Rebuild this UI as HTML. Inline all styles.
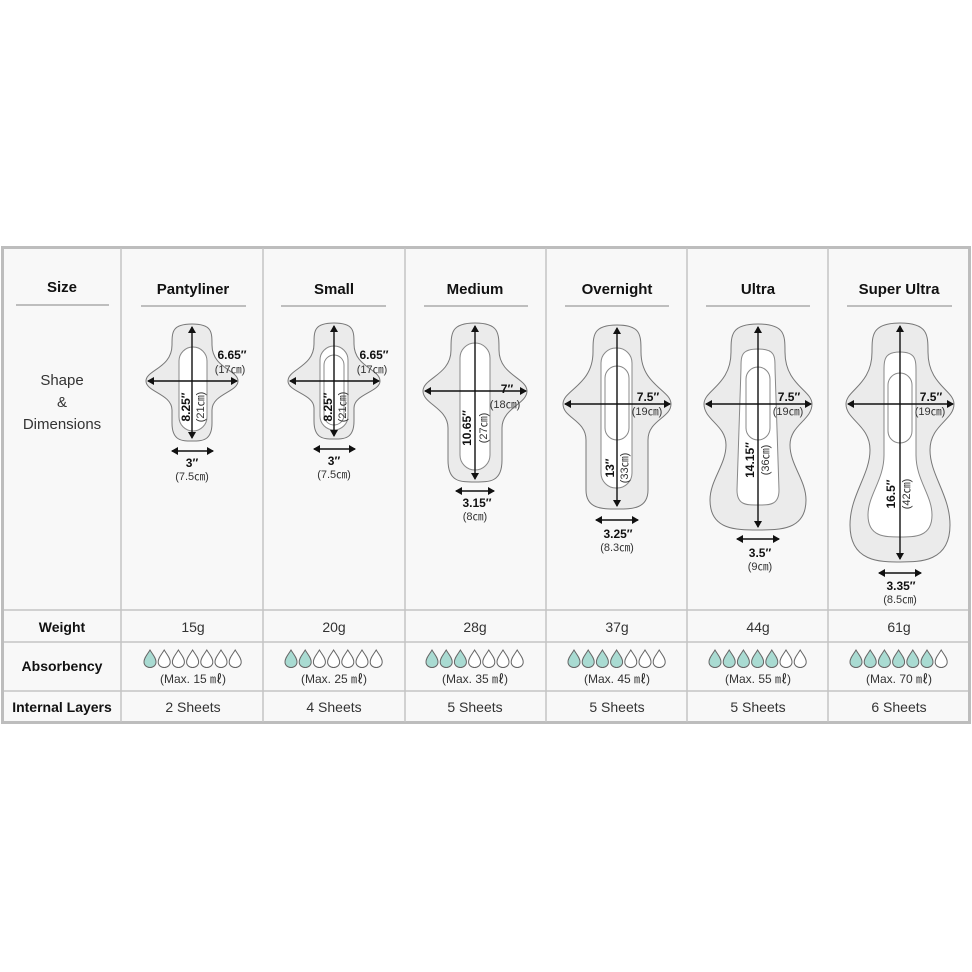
<!DOCTYPE html>
<html><head><meta charset="utf-8"><style>
html,body{margin:0;padding:0;background:#fff;}
svg{display:block;font-family:"Liberation Sans","DejaVu Sans",sans-serif;}
.b{font-weight:bold;fill:#111;}
.t{fill:#333;}
.pad{fill:#ebebeb;stroke:#777;stroke-width:1;}
.in{fill:#fff;stroke:#888;stroke-width:1;}
.ar{stroke:#111;stroke-width:1.4;fill:none;marker-start:url(#a);marker-end:url(#a);}
.d0{fill:#fff;stroke:#666;stroke-width:1;}
.d1{fill:#a9dbd2;stroke:#666;stroke-width:1;}
</style></head><body>
<svg width="972" height="972" viewBox="0 0 972 972">
<defs>
<marker id="a" markerWidth="8" markerHeight="8" refX="6" refY="4" orient="auto-start-reverse" markerUnits="userSpaceOnUse"><path d="M0,0 L7,4 L0,8 Z" fill="#111"/></marker>
<path id="dr" d="M0,-9 C3,-4 6,-1 6,3 C6,6.5 3,8.5 0,8.5 C-3,8.5 -6,6.5 -6,3 C-6,-1 -3,-4 0,-9Z"/>
</defs>
<rect x="0" y="0" width="972" height="972" fill="#fff"/>
<!-- table -->
<rect x="2.5" y="247.5" width="967" height="475" fill="#f8f8f8" stroke="#bdbdbd" stroke-width="3"/>
<g stroke="#c4c4c4" stroke-width="1.5">
<line x1="121" y1="248" x2="121" y2="722"/><line x1="263" y1="248" x2="263" y2="722"/>
<line x1="405" y1="248" x2="405" y2="722"/><line x1="546" y1="248" x2="546" y2="722"/>
<line x1="687" y1="248" x2="687" y2="722"/><line x1="828" y1="248" x2="828" y2="722"/>
<line x1="4" y1="610" x2="968" y2="610"/><line x1="4" y1="642" x2="968" y2="642"/>
<line x1="4" y1="691" x2="968" y2="691"/>
</g>
<g stroke="#aaa" stroke-width="1.5">
<line x1="16" y1="305" x2="109" y2="305"/>
<line x1="141" y1="306" x2="246" y2="306"/><line x1="281" y1="306" x2="386" y2="306"/>
<line x1="424" y1="306" x2="528" y2="306"/><line x1="565" y1="306" x2="669" y2="306"/>
<line x1="706" y1="306" x2="810" y2="306"/><line x1="847" y1="306" x2="952" y2="306"/>
</g>
<g class="b" font-size="15" text-anchor="middle">
<text x="62" y="292">Size</text><text x="193" y="294">Pantyliner</text><text x="334" y="294">Small</text>
<text x="475" y="294">Medium</text><text x="617" y="294">Overnight</text><text x="758" y="294">Ultra</text>
<text x="899" y="294">Super Ultra</text>
<text x="62" y="632" font-size="14">Weight</text><text x="62" y="671" font-size="14">Absorbency</text>
<text x="62" y="712" font-size="14">Internal Layers</text>
</g>
<g class="t" font-size="15" text-anchor="middle">
<text x="62" y="385">Shape</text><text x="62" y="407">&amp;</text><text x="62" y="429">Dimensions</text>
</g>
<g class="t" font-size="14" text-anchor="middle">
<text x="193" y="632">15g</text><text x="334" y="632">20g</text><text x="475" y="632">28g</text>
<text x="617" y="632">37g</text><text x="758" y="632">44g</text><text x="899" y="632">61g</text>
<text x="193" y="712">2 Sheets</text><text x="334" y="712">4 Sheets</text><text x="475" y="712">5 Sheets</text>
<text x="617" y="712">5 Sheets</text><text x="758" y="712">5 Sheets</text><text x="899" y="712">6 Sheets</text>
</g>
<g class="t" font-size="12" text-anchor="middle">
<text x="193" y="683">(Max. 15 ㎖)</text><text x="334" y="683">(Max. 25 ㎖)</text><text x="475" y="683">(Max. 35 ㎖)</text>
<text x="617" y="683">(Max. 45 ㎖)</text><text x="758" y="683">(Max. 55 ㎖)</text><text x="899" y="683">(Max. 70 ㎖)</text>
</g>
<!-- drops -->
<g transform="translate(150,659)"><use href="#dr" class="d1"/><use href="#dr" x="14.2" class="d0"/><use href="#dr" x="28.4" class="d0"/><use href="#dr" x="42.6" class="d0"/><use href="#dr" x="56.8" class="d0"/><use href="#dr" x="71" class="d0"/><use href="#dr" x="85.2" class="d0"/></g>
<g transform="translate(291,659)"><use href="#dr" class="d1"/><use href="#dr" x="14.2" class="d1"/><use href="#dr" x="28.4" class="d0"/><use href="#dr" x="42.6" class="d0"/><use href="#dr" x="56.8" class="d0"/><use href="#dr" x="71" class="d0"/><use href="#dr" x="85.2" class="d0"/></g>
<g transform="translate(432,659)"><use href="#dr" class="d1"/><use href="#dr" x="14.2" class="d1"/><use href="#dr" x="28.4" class="d1"/><use href="#dr" x="42.6" class="d0"/><use href="#dr" x="56.8" class="d0"/><use href="#dr" x="71" class="d0"/><use href="#dr" x="85.2" class="d0"/></g>
<g transform="translate(574,659)"><use href="#dr" class="d1"/><use href="#dr" x="14.2" class="d1"/><use href="#dr" x="28.4" class="d1"/><use href="#dr" x="42.6" class="d1"/><use href="#dr" x="56.8" class="d0"/><use href="#dr" x="71" class="d0"/><use href="#dr" x="85.2" class="d0"/></g>
<g transform="translate(715,659)"><use href="#dr" class="d1"/><use href="#dr" x="14.2" class="d1"/><use href="#dr" x="28.4" class="d1"/><use href="#dr" x="42.6" class="d1"/><use href="#dr" x="56.8" class="d1"/><use href="#dr" x="71" class="d0"/><use href="#dr" x="85.2" class="d0"/></g>
<g transform="translate(856,659)"><use href="#dr" class="d1"/><use href="#dr" x="14.2" class="d1"/><use href="#dr" x="28.4" class="d1"/><use href="#dr" x="42.6" class="d1"/><use href="#dr" x="56.8" class="d1"/><use href="#dr" x="71" class="d1"/><use href="#dr" x="85.2" class="d0"/></g>

<!-- pads -->
<path class="pad" d="M192,324 C212,324 212,332 212,345 C212,368 238,370 238,381 C238,392 212,394 212,410 L212,423 C212,441 202,441 192,441 C182,441 172,441 172,423 L172,410 C172,394 146,392 146,381 C146,370 172,368 172,345 C172,332 172,324 192,324Z"/>
<rect class="in" x="179" y="347" width="28" height="84" rx="14"/>
<path class="pad" d="M334,323 C354,323 354,331 354,344 C354,367 380,369 380,381 C380,392 354,394 354,408 L354,421 C354,439 344,439 334,439 C324,439 314,439 314,421 L314,408 C314,394 288,392 288,381 C288,369 314,367 314,344 C314,331 314,323 334,323Z"/>
<rect class="in" x="320" y="346" width="28" height="84" rx="14"/>
<rect class="in" x="324" y="355" width="20" height="70" rx="10"/>
<path class="pad" d="M475,323 C499,323 499,333 499,350 C499,375 527,378 527,391 C527,404 502,408 502,428 L502,460 C502,482 490,482 475,482 C460,482 448,482 448,460 L448,428 C448,408 423,404 423,391 C423,378 451,375 451,350 C451,333 451,323 475,323Z"/>
<rect class="in" x="460" y="343" width="30" height="127" rx="15"/>
<path class="pad" d="M617,325 C641,325 641,335 641,352 C641,385 671,390 671,404 C671,418 648,420 648,440 L648,490 C648,509 632,509 617,509 C602,509 586,509 586,490 L586,440 C586,420 563,418 563,404 C563,390 593,385 593,352 C593,335 593,325 617,325Z"/>
<rect class="in" x="601" y="348" width="31" height="140" rx="15"/>
<rect class="in" x="605" y="366" width="24" height="74" rx="12"/>
<path class="pad" d="M758,324 C785,324 785,335 785,352 C785,385 812,390 812,404 C812,420 790,425 790,445 C790,465 806,480 806,500 C806,530 780,530 758,530 C736,530 710,530 710,500 C710,480 726,465 726,445 C726,425 704,420 704,404 C704,390 731,385 731,352 C731,335 731,324 758,324Z"/>
<path class="in" d="M758,349 C775,349 775,356 775,368 L779,490 C779,505 770,505 758,505 C746,505 737,505 737,490 L741,368 C741,356 741,349 758,349Z"/>
<rect class="in" x="746" y="367" width="24" height="73" rx="12"/>
<path class="pad" d="M900,323 C928,323 928,335 928,352 C928,385 954,390 954,404 C954,420 930,425 930,450 C930,475 950,495 950,525 C950,562 920,562 900,562 C880,562 850,562 850,525 C850,495 870,475 870,450 C870,425 846,420 846,404 C846,390 872,385 872,352 C872,335 872,323 900,323Z"/>
<path class="in" d="M900,352 C916,352 916,360 916,372 L916,455 C916,480 932,495 932,515 C932,537 915,537 900,537 C885,537 868,537 868,515 C868,495 884,480 884,455 L884,372 C884,360 884,352 900,352Z"/>
<rect class="in" x="888" y="373" width="24" height="70" rx="12"/>

<!-- arrows -->
<g class="ar">
<line x1="192" y1="327" x2="192" y2="438"/><line x1="148" y1="381" x2="237" y2="381"/><line x1="172" y1="451" x2="213" y2="451"/>
<line x1="334" y1="326" x2="334" y2="436"/><line x1="290" y1="381" x2="379" y2="381"/><line x1="314" y1="449" x2="355" y2="449"/>
<line x1="475" y1="326" x2="475" y2="479"/><line x1="425" y1="391" x2="526" y2="391"/><line x1="456" y1="491" x2="494" y2="491"/>
<line x1="617" y1="328" x2="617" y2="506"/><line x1="565" y1="404" x2="670" y2="404"/><line x1="596" y1="520" x2="638" y2="520"/>
<line x1="758" y1="327" x2="758" y2="527"/><line x1="706" y1="404" x2="811" y2="404"/><line x1="737" y1="539" x2="779" y2="539"/>
<line x1="900" y1="326" x2="900" y2="559"/><line x1="848" y1="404" x2="953" y2="404"/><line x1="879" y1="573" x2="921" y2="573"/>
</g>
<!-- labels -->
<g font-size="12" text-anchor="middle">
<text class="b" x="232" y="359">6.65″</text><text class="t" x="230" y="373" font-size="11">(17㎝)</text>
<text class="b" x="192" y="467">3″</text><text class="t" x="192" y="480" font-size="11">(7.5㎝)</text>
<text class="b" x="374" y="359">6.65″</text><text class="t" x="372" y="373" font-size="11">(17㎝)</text>
<text class="b" x="334" y="465">3″</text><text class="t" x="334" y="478" font-size="11">(7.5㎝)</text>
<text class="b" x="507" y="393">7″</text><text class="t" x="505" y="408" font-size="11">(18㎝)</text>
<text class="b" x="477" y="507">3.15″</text><text class="t" x="475" y="520" font-size="11">(8㎝)</text>
<text class="b" x="648" y="401">7.5″</text><text class="t" x="647" y="415" font-size="11">(19㎝)</text>
<text class="b" x="618" y="538">3.25″</text><text class="t" x="617" y="551" font-size="11">(8.3㎝)</text>
<text class="b" x="789" y="401">7.5″</text><text class="t" x="788" y="415" font-size="11">(19㎝)</text>
<text class="b" x="760" y="557">3.5″</text><text class="t" x="760" y="570" font-size="11">(9㎝)</text>
<text class="b" x="931" y="401">7.5″</text><text class="t" x="930" y="415" font-size="11">(19㎝)</text>
<text class="b" x="901" y="590">3.35″</text><text class="t" x="900" y="603" font-size="11">(8.5㎝)</text>
</g>
<g font-size="12" text-anchor="middle">
<text class="b" transform="translate(190,407) rotate(-90)">8.25″</text><text class="t" font-size="11" transform="translate(204,407) rotate(-90)">(21㎝)</text>
<text class="b" transform="translate(332,407) rotate(-90)">8.25″</text><text class="t" font-size="11" transform="translate(346,407) rotate(-90)">(21㎝)</text>
<text class="b" transform="translate(471,428) rotate(-90)">10.65″</text><text class="t" font-size="11" transform="translate(487,428) rotate(-90)">(27㎝)</text>
<text class="b" transform="translate(614,468) rotate(-90)">13″</text><text class="t" font-size="11" transform="translate(628,468) rotate(-90)">(33㎝)</text>
<text class="b" transform="translate(754,460) rotate(-90)">14.15″</text><text class="t" font-size="11" transform="translate(769,460) rotate(-90)">(36㎝)</text>
<text class="b" transform="translate(895,494) rotate(-90)">16.5″</text><text class="t" font-size="11" transform="translate(910,494) rotate(-90)">(42㎝)</text>
</g>
</svg>
</body></html>
